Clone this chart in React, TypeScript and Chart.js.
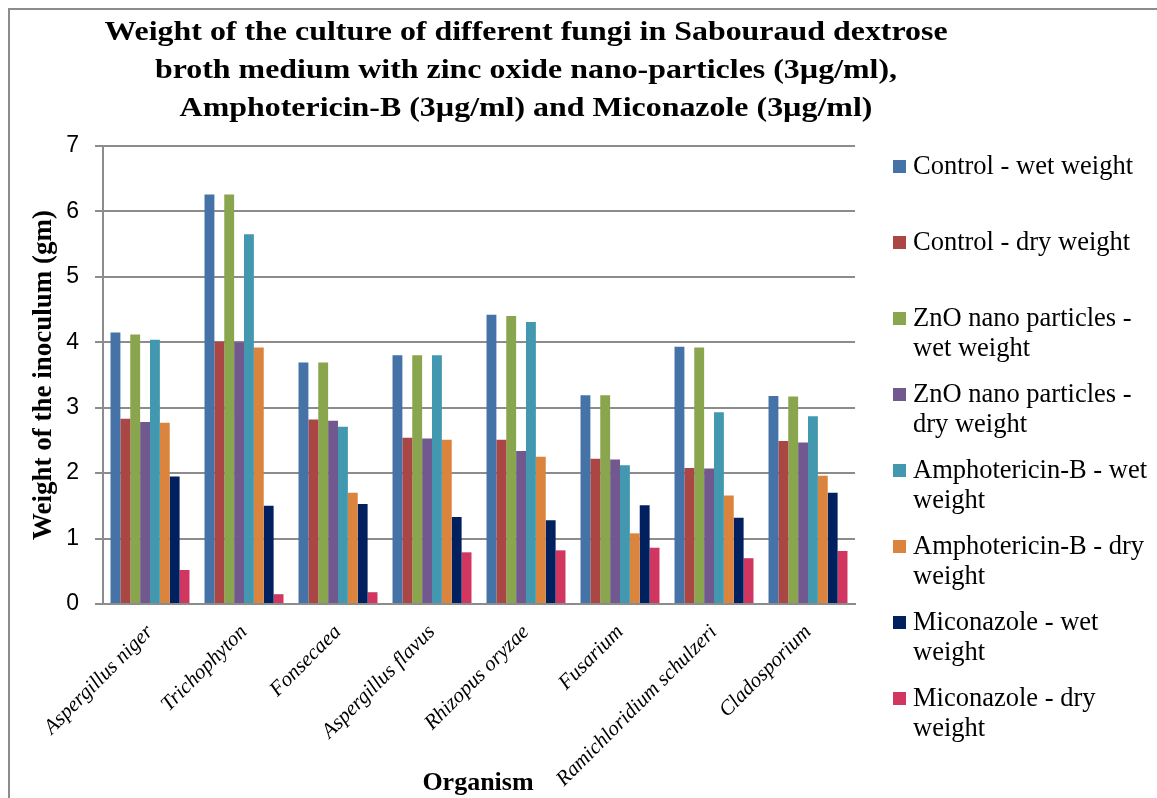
import React, { useEffect, useRef } from 'react';
import { Chart, registerables } from 'chart.js';

Chart.register(...registerables);

const categories = [
  'Aspergillus niger',
  'Trichophyton',
  'Fonsecaea',
  'Aspergillus flavus',
  'Rhizopus oryzae',
  'Fusarium',
  'Ramichloridium schulzeri',
  'Cladosporium',
];

const controlWet = [4.15, 6.26, 3.69, 3.8, 4.42, 3.19, 3.93, 3.18];
const controlDry = [2.83, 4.01, 2.82, 2.54, 2.51, 2.22, 2.08, 2.49];
const znoWet = [4.12, 6.26, 3.69, 3.8, 4.4, 3.19, 3.92, 3.17];
const znoDry = [2.78, 4.0, 2.8, 2.53, 2.34, 2.21, 2.07, 2.47];
const amphoWet = [4.04, 5.65, 2.71, 3.8, 4.31, 2.12, 2.93, 2.87];
const amphoDry = [2.77, 3.92, 1.7, 2.51, 2.25, 1.08, 1.66, 1.96];
const micoWet = [1.95, 1.5, 1.53, 1.33, 1.28, 1.51, 1.32, 1.7];
const micoDry = [0.52, 0.15, 0.18, 0.79, 0.82, 0.86, 0.7, 0.81];

const seriesValues = [controlWet, controlDry, znoWet, znoDry, amphoWet, amphoDry, micoWet, micoDry];

const seriesLabels = [
  ['Control - wet weight'],
  ['Control - dry weight'],
  ['ZnO nano particles -', 'wet weight'],
  ['ZnO nano particles -', 'dry weight'],
  ['Amphotericin-B - wet', 'weight'],
  ['Amphotericin-B - dry', 'weight'],
  ['Miconazole - wet', 'weight'],
  ['Miconazole - dry', 'weight'],
];

const colors = ['#4572A7', '#AA4643', '#89A54E', '#71588F', '#4198AF', '#DB843D', '#00205F', '#D0365F'];

const titleLines = [
  'Weight of the culture of different fungi in Sabouraud dextrose',
  'broth medium with zinc oxide nano-particles (3µg/ml),',
  'Amphotericin-B (3µg/ml) and Miconazole (3µg/ml)',
];

const yTitle = 'Weight of the inoculum (gm)';
const xTitle = 'Organism';
const yTicks = { min: 0, max: 7, step: 1 };

const W = 1157;
const H = 798;
const SERIF = '"Liberation Serif", "Times New Roman", serif';
const GRID = '#8c8c8c';

const decor = {
  id: 'decor',
  afterDraw(chart: any) {
    const ctx = chart.ctx as CanvasRenderingContext2D;
    ctx.save();
    // frame
    ctx.strokeStyle = GRID;
    ctx.lineWidth = 2;
    ctx.beginPath();
    ctx.moveTo(9, H);
    ctx.lineTo(9, 9);
    ctx.lineTo(W, 9);
    ctx.stroke();
    // title
    ctx.fillStyle = '#000';
    ctx.textAlign = 'center';
    ctx.textBaseline = 'middle';
    ctx.font = `bold 28px ${SERIF}`;
    titleLines.forEach((t, i) => {
      ctx.save();
      ctx.translate(526, 33 + i * 38);
      ctx.scale(1.14, 1);
      ctx.fillText(t, 0, 0);
      ctx.restore();
    });
    // x title
    ctx.font = `bold 26px ${SERIF}`;
    ctx.fillText(xTitle, 478, 783);
    // legend
    ctx.textAlign = 'left';
    ctx.font = `26.5px ${SERIF}`;
    seriesLabels.forEach((lines, i) => {
      const y = 167 + i * 76;
      ctx.fillStyle = colors[i];
      ctx.fillRect(893, y - 7, 13, 13);
      ctx.fillStyle = '#000';
      lines.forEach((l, j) => ctx.fillText(l, 913, y + j * 30));
    });
    ctx.restore();
  },
};

export default function App() {
  const ref = useRef<HTMLCanvasElement>(null);
  useEffect(() => {
    document.body.style.margin = '0';
    const chart = new Chart(ref.current as HTMLCanvasElement, {
      type: 'bar',
      data: {
        labels: categories,
        datasets: seriesValues.map((vals, i) => ({
          label: seriesLabels[i].join(' '),
          data: vals,
          backgroundColor: colors[i],
          borderWidth: 0,
          categoryPercentage: 0.84,
          barPercentage: 1,
        })),
      },
      options: {
        responsive: false,
        animation: false,
        layout: { padding: { left: 10, top: 146, right: 302, bottom: 0 } },
        plugins: {
          legend: { display: false },
          title: { display: false },
          tooltip: { enabled: false },
        },
        scales: {
          x: {
            grid: { display: false },
            border: { display: true, color: GRID, width: 2 },
            ticks: {
              autoSkip: false,
              maxRotation: 45,
              minRotation: 45,
              padding: 8,
              color: '#000',
              font: { family: SERIF, style: 'italic', size: 21 },
            },
            afterFit: (s: any) => {
              s.height = 194;
            },
          },
          y: {
            min: yTicks.min,
            max: yTicks.max,
            ticks: {
              stepSize: yTicks.step,
              padding: 16,
              color: '#000',
              font: { family: '"Liberation Sans", Arial, sans-serif', size: 23 },
            },
            grid: { color: GRID, lineWidth: 2, tickLength: 8, tickColor: GRID },
            border: { color: GRID, width: 2 },
            title: {
              display: true,
              text: yTitle,
              color: '#000',
              font: { family: SERIF, weight: 'bold', size: 27 },
              padding: { top: 18, bottom: 0 },
            },
            afterFit: (s: any) => {
              s.width = 93;
            },
          },
        },
      },
      plugins: [decor],
    });
    return () => chart.destroy();
  }, []);
  return <canvas ref={ref} width={W} height={H} style={{ display: 'block' }} />;
}
